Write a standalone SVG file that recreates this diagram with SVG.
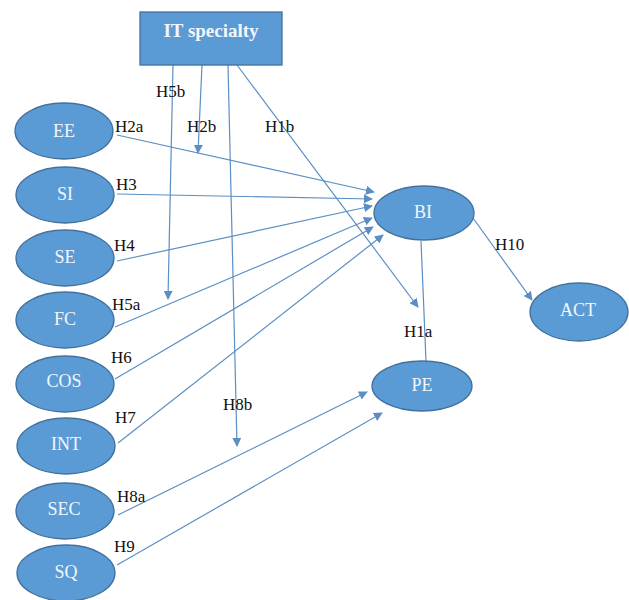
<svg xmlns="http://www.w3.org/2000/svg" width="629" height="600" viewBox="0 0 629 600">
<style>
.n{fill:#5b9bd5;stroke:#41719c;stroke-width:1.3}
text{font-family:'Liberation Serif','Times New Roman','DejaVu Serif',serif}
.t{font-size:18px;fill:#f2f6fb;text-anchor:middle}
.l{font-size:17px;fill:#111}
.c line{stroke:#5b8fc4;stroke-width:1.2;fill:none}
.a{marker-end:url(#ah)}
</style>
<defs>
<marker id="ah" viewBox="0 0 10 10" refX="9" refY="5" markerWidth="9" markerHeight="9" markerUnits="userSpaceOnUse" orient="auto">
<path d="M0,0 L10,5 L0,10 z" fill="#5b8fc4"/>
</marker>
</defs>
<rect width="629" height="600" fill="#fff"/>
<g class="c">
<line class="a" x1="117" y1="135" x2="374" y2="192"/>
<line class="a" x1="117" y1="194" x2="372" y2="199"/>
<line class="a" x1="117" y1="261" x2="372" y2="206"/>
<line class="a" x1="115" y1="327" x2="372" y2="218"/>
<line class="a" x1="115" y1="379" x2="373" y2="227"/>
<line class="a" x1="118" y1="443" x2="383" y2="235"/>
<line class="a" x1="118" y1="515" x2="367" y2="392"/>
<line class="a" x1="117" y1="565" x2="382" y2="413"/>
<line class="a" x1="173" y1="65" x2="168" y2="299"/>
<line class="a" x1="202" y1="65" x2="198" y2="153"/>
<line class="a" x1="228" y1="65" x2="237" y2="446"/>
<line class="a" x1="237" y1="65" x2="418" y2="307"/>
<line x1="421" y1="241" x2="426" y2="361"/>
<line class="a" x1="473" y1="218" x2="532" y2="300"/>
</g>
<g id="it"><rect class="n" x="140" y="12" width="142" height="53"/><text x="211" y="37" class="t" font-weight="bold" style="font-size:19px">IT specialty</text></g>
<g id="ee"><ellipse class="n" cx="64" cy="131" rx="49" ry="28"/><text class="t" x="64" y="137">EE</text></g>
<g id="si"><ellipse class="n" cx="65" cy="195" rx="49" ry="28"/><text class="t" x="65" y="200">SI</text></g>
<g id="se"><ellipse class="n" cx="65" cy="258" rx="49" ry="28"/><text class="t" x="65" y="263">SE</text></g>
<g id="fc"><ellipse class="n" cx="65" cy="320" rx="49" ry="28"/><text class="t" x="65" y="325">FC</text></g>
<g id="cos"><ellipse class="n" cx="65" cy="384" rx="49" ry="28"/><text class="t" x="64" y="387">COS</text></g>
<g id="int"><ellipse class="n" cx="66" cy="446" rx="49" ry="28"/><text class="t" x="66" y="450">INT</text></g>
<g id="sec"><ellipse class="n" cx="65" cy="511" rx="49" ry="28"/><text class="t" x="64" y="515">SEC</text></g>
<g id="sq"><ellipse class="n" cx="66" cy="573" rx="49" ry="28"/><text class="t" x="66" y="578">SQ</text></g>
<g id="bi"><ellipse class="n" cx="424" cy="213" rx="50" ry="27"/><text class="t" x="423" y="218">BI</text></g>
<g id="act"><ellipse class="n" cx="579" cy="312" rx="49" ry="29"/><text class="t" x="578" y="316">ACT</text></g>
<g id="pe"><ellipse class="n" cx="422" cy="386" rx="50" ry="25"/><text class="t" x="422" y="391">PE</text></g>
<g id="labels" class="l">
<text x="115" y="132">H2a</text>
<text x="187" y="132">H2b</text>
<text x="265" y="132">H1b</text>
<text x="156" y="97">H5b</text>
<text x="116" y="190">H3</text>
<text x="114" y="251">H4</text>
<text x="112" y="310">H5a</text>
<text x="111" y="363">H6</text>
<text x="115" y="423">H7</text>
<text x="223" y="410">H8b</text>
<text x="117" y="502">H8a</text>
<text x="114" y="552">H9</text>
<text x="495" y="250">H10</text>
<text x="404" y="337">H1a</text>
</g>
</svg>
